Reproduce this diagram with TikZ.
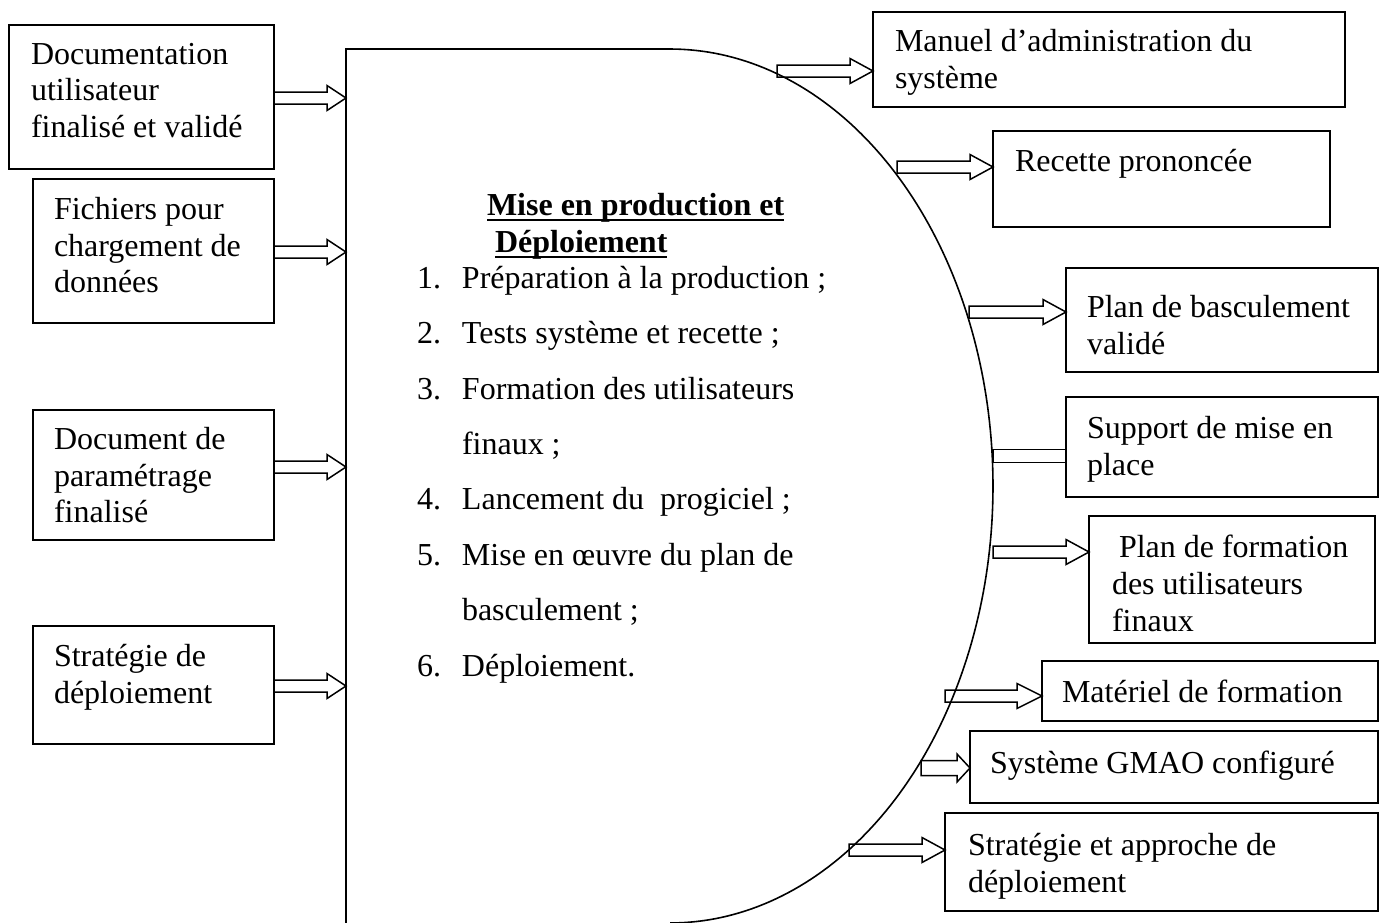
\documentclass[tikz,border=0pt]{standalone}
\usepackage{fontspec}
\setmainfont{Liberation Serif}
\usetikzlibrary{calc}
% underline at a fixed depth below the baseline
\newcommand{\souligne}[1]{\setbox0\hbox{#1}\rlap{\rule[-5.7pt]{\wd0}{2.2pt}}\box0}

\begin{document}
\begin{tikzpicture}[x=1pt,y=-1pt,
  every node/.style={inner sep=0pt, outer sep=0pt},
  boxframe/.style={draw, line width=1.6pt, anchor=north west},
  txt/.style={anchor=north west, align=left, font=\fontsize{32pt}{36.8pt}\selectfont},
  fatshaft/.store in=\fatshaft, fatshaft=6pt,
  fathead/.store in=\fathead, fathead=12.5pt,
  fatlen/.store in=\fatlen, fatlen=23pt,
  % hollow block arrow between two points at the same height
  fat/.style={line width=1.5pt, line join=miter, to path={
    let \p1=(\tikztostart), \p2=(\tikztotarget) in
    (\x1,\y1+\fatshaft) -- (\x2-\fatlen,\y1+\fatshaft) -- (\x2-\fatlen,\y1+\fathead)
    -- (\x2,\y1) -- (\x2-\fatlen,\y1-\fathead) -- (\x2-\fatlen,\y1-\fatshaft)
    -- (\x1,\y1-\fatshaft) -- cycle}},
  % hollow shaft without a head
  fatbar/.style={line width=1.5pt, to path={
    let \p1=(\tikztostart), \p2=(\tikztotarget) in
    (\x1,\y1+\fatshaft) rectangle (\x2,\y1-\fatshaft)}}
]
\useasboundingbox (0,0) rectangle (1384,922);
\fill[white] (0,0) rectangle (1384,922);

% central process shape
\draw[line width=1.6pt]
  (346,924) -- (346,49) -- (670,49)
  -- plot[domain=-90:90, samples=160, variable=\t] ({670+323*cos(\t)},{486+437*sin(\t)});

% input boxes
\node[boxframe, minimum width=265pt, minimum height=144pt] (docu)  at (9,25)  {};
\node[boxframe, minimum width=241pt, minimum height=144pt] (fich)  at (33,179) {};
\node[boxframe, minimum width=241pt, minimum height=130pt] (param) at (33,410) {};
\node[boxframe, minimum width=241pt, minimum height=118pt] (strat) at (33,626) {};

\node[txt] (docut)  at (31,43)  {Documentation\\utilisateur\\finalisé et validé};
\node[txt] (ficht)  at (54,197) {Fichiers pour\\chargement de\\données};
\node[txt] (paramt) at (54,427) {Document de\\paramétrage\\finalisé};
\node[txt] (stratt) at (54,644) {Stratégie de\\déploiement};

% output boxes
\node[boxframe, minimum width=472pt, minimum height=95pt]  (manuel)    at (873,12)  {};
\node[boxframe, minimum width=337pt, minimum height=96pt]  (recette)   at (993,131) {};
\node[boxframe, minimum width=312pt, minimum height=104pt] (bascul)    at (1066,268) {};
\node[boxframe, minimum width=312pt, minimum height=100pt] (support)   at (1066,397) {};
\node[boxframe, minimum width=286pt, minimum height=127pt] (formation) at (1089,516) {};
\node[boxframe, minimum width=336pt, minimum height=60pt]  (materiel)  at (1042,661) {};
\node[boxframe, minimum width=408pt, minimum height=72pt]  (gmao)      at (970,731) {};
\node[boxframe, minimum width=433pt, minimum height=98pt]  (approche)  at (945,813) {};

\node[txt] (manuelt)    at (895,29)   {Manuel d’administration du\\système};
\node[txt] (recettet)   at (1015,149) {Recette prononcée};
\node[txt] (bascult)    at (1087,295) {Plan de basculement\\validé};
\node[txt] (supportt)   at (1087,416) {Support de mise en\\place};
\node[txt] (formationt) at (1112,535) {\hspace*{7pt}Plan de formation\\des utilisateurs\\finaux};
\node[txt] (materielt)  at (1062,680) {Matériel de formation};
\node[txt] (gmaot)      at (990,751)  {Système GMAO configuré};
\node[txt] (approchet)  at (968,833)  {Stratégie et approche de\\déploiement};

% title and steps of the phase
\node[txt, font=\fontsize{32pt}{36.8pt}\selectfont\bfseries] (titre) at (487,193)
  {\souligne{Mise en production et}\\\hspace*{8pt}\souligne{Déploiement}};
\node[txt, font=\fontsize{32pt}{55.4pt}\selectfont] (etapes) at (417,266)
  {\makebox[45pt][l]{1.}Préparation à la production ;\\
   \makebox[45pt][l]{2.}Tests système et recette ;\\
   \makebox[45pt][l]{3.}Formation des utilisateurs\\
   \hspace*{45pt}finaux ;\\
   \makebox[45pt][l]{4.}Lancement du\ \ progiciel ;\\
   \makebox[45pt][l]{5.}Mise en œuvre du plan de\\
   \hspace*{45pt}basculement ;\\
   \makebox[45pt][l]{6.}Déploiement.};

% arrow ends on the central shape
\coordinate (p1) at (346,98);
\coordinate (p2) at (346,252);
\coordinate (p3) at (346,467);
\coordinate (p4) at (346,686);
\coordinate (q1) at (777,71);
\coordinate (q2) at (897,167);
\coordinate (q3) at (969,312);
\coordinate (q4) at (993,456);
\coordinate (q5) at (993,552);
\coordinate (q6) at (945,696);
\coordinate (q7) at (921,768);
\coordinate (q8) at (849,850);

% inputs
\draw[fat, fatlen=19pt] (docu.east |- p1)  to (p1);
\draw[fat, fatlen=19pt] (fich.east |- p2)  to (p2);
\draw[fat, fatlen=19pt] (param.east |- p3) to (p3);
\draw[fat, fatlen=19pt] (strat.east |- p4) to (p4);

% outputs
\draw[fat] (q1) to (manuel.west |- q1);
\draw[fat] (q2) to (recette.west |- q2);
\draw[fat] (q3) to (bascul.west |- q3);
\draw[fatbar, fatshaft=6.5pt] (q4) to (support.west |- q4);
\draw[fat] (q5) to (formation.west |- q5);
\draw[fat, fatlen=25pt] (q6) to (materiel.west |- q6);
\draw[fat, fatlen=13pt, fathead=14pt, fatshaft=7.5pt] (q7) to (gmao.west |- q7);
\draw[fat] (q8) to (approche.west |- q8);
\end{tikzpicture}
\end{document}
